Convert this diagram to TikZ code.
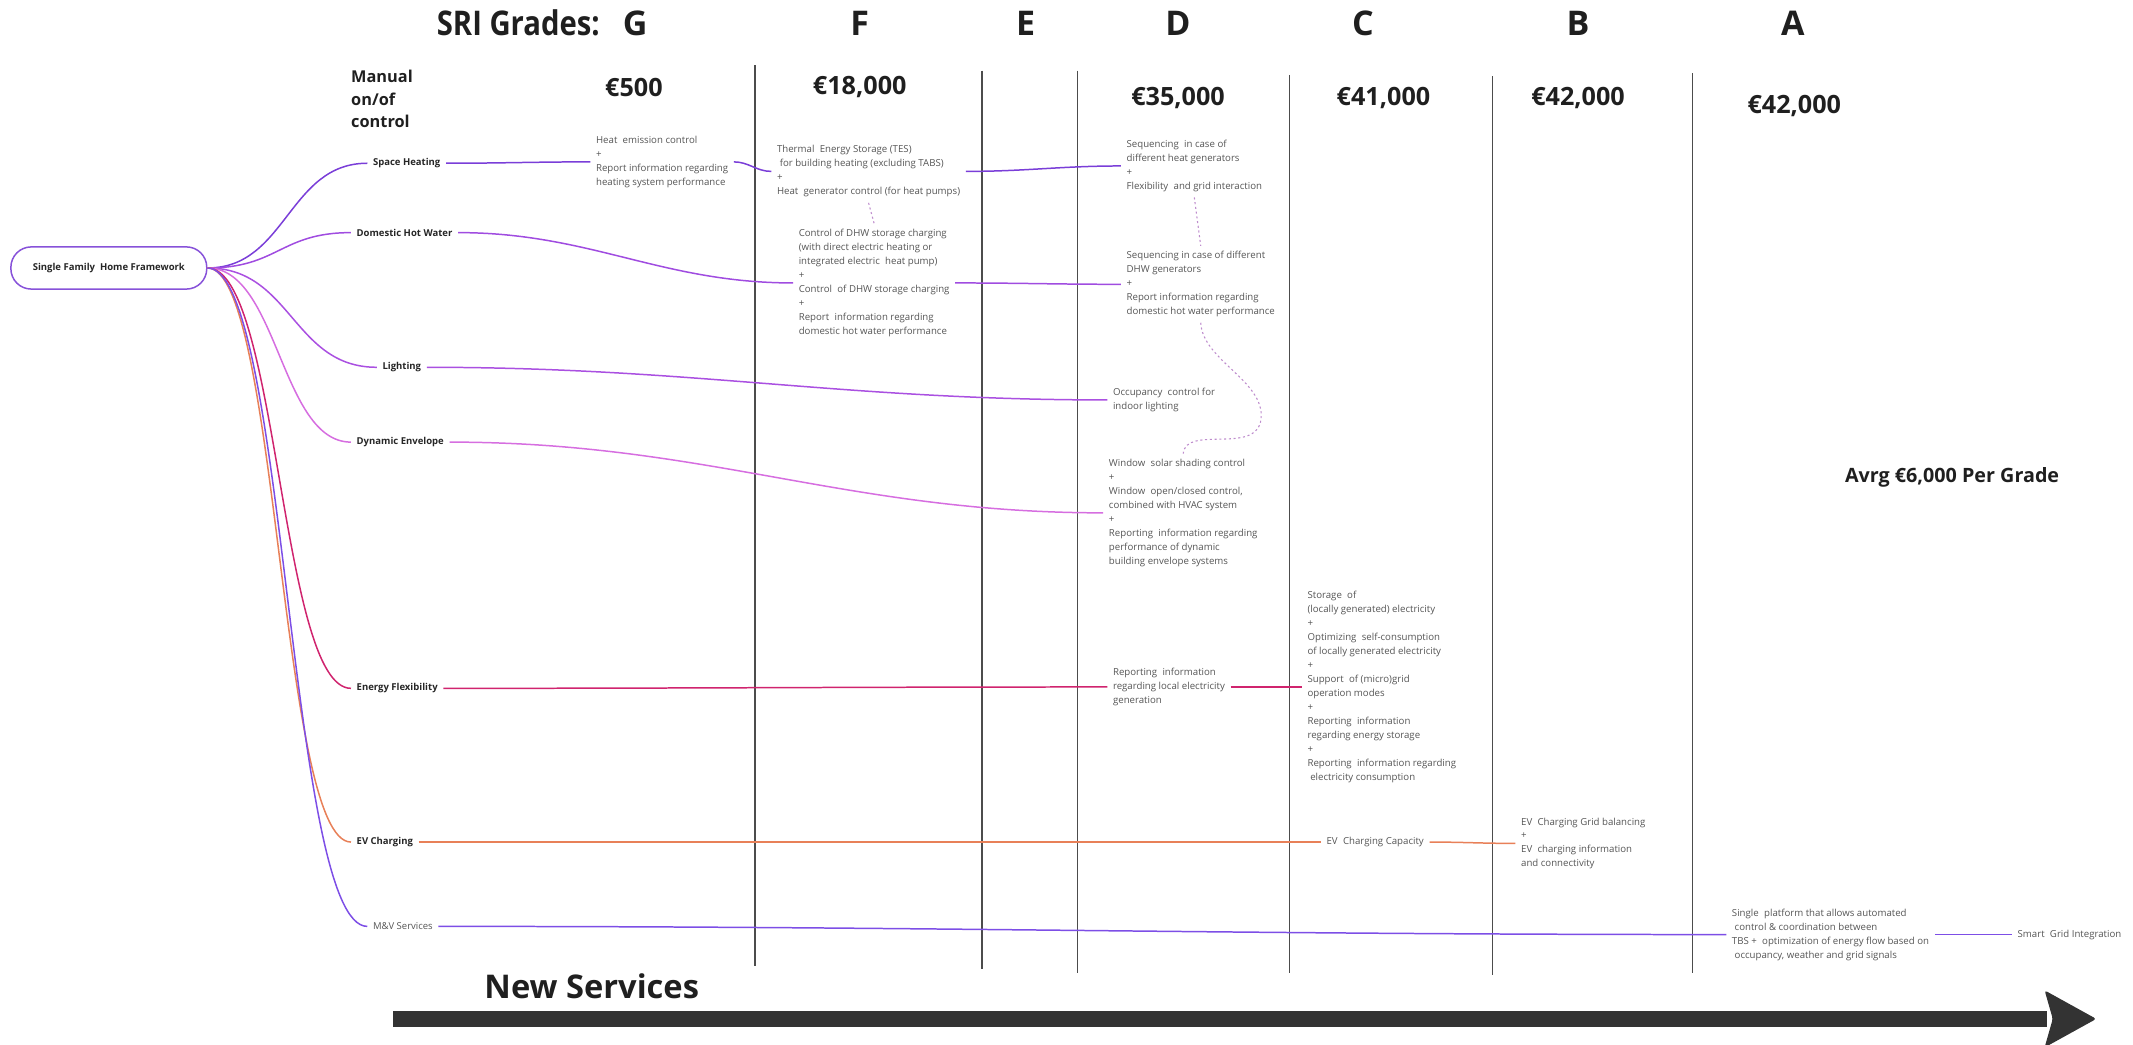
\documentclass[tikz,border=0pt]{standalone}
\usepackage{graphicx}
\usepackage{fontspec}
\setmainfont{Open Sans}
\usetikzlibrary{positioning}

\definecolor{shcol}{RGB}{122,62,216}
\definecolor{dhwcol}{RGB}{160,76,224}
\definecolor{ltcol}{RGB}{170,80,225}
\definecolor{decol}{RGB}{214,110,224}
\definecolor{efcol}{RGB}{208,36,110}
\definecolor{evcol}{RGB}{232,128,88}
\definecolor{mvcol}{RGB}{125,78,230}
\definecolor{rootcol}{RGB}{135,82,217}
\definecolor{txtcol}{RGB}{85,85,85}
\definecolor{dotcol}{RGB}{190,140,205}
\definecolor{barcol}{RGB}{51,51,51}

\newcommand{\gp}{\hspace{0.55em}}

\tikzset{
  root/.style={draw=rootcol, line width=1.1pt, rounded corners=15pt, minimum width=144pt, minimum height=31pt, font=\bfseries\fontsize{7}{8.5}\selectfont, text=black!85},
  lbl/.style={anchor=west, font=\bfseries\fontsize{7}{8.5}\selectfont, text=black!85, inner sep=4pt},
  svc/.style={anchor=west, align=left, font=\fontsize{7.1}{10.25}\selectfont, text=txtcol, inner sep=4pt},
  grade/.style={font=\bfseries\fontsize{25}{30}\selectfont, text=black!88},
  price/.style={font=\bfseries\fontsize{18.5}{22}\selectfont, text=black!88},
  branch/.style={line width=1.1pt},
  link/.style={line width=1.1pt, out=0, in=180},
  dotline/.style={dotcol, line width=0.8pt, dash pattern=on 1.5pt off 2pt},
  gridline/.style={draw=black!70, line width=1.1pt},
}

\begin{document}
\begin{tikzpicture}[x=1pt, y=-1pt]
\useasboundingbox (0,0) rectangle (1568,768);

% grades and prices
\node[grade] (gG) at (467,17) {G};
\node[grade, left=10pt of gG] (sri) {\scalebox{0.86}[1]{SRI Grades:}};
\node[grade] (gF) at (632,17) {F};
\node[grade] (gE) at (754,17) {E};
\node[grade] (gD) at (866,17) {D};
\node[grade] (gC) at (1002,17) {C};
\node[grade] (gB) at (1160,17) {B};
\node[grade] (gA) at (1318,17) {A};

\node[anchor=west, align=left, inner sep=0pt, font=\bfseries\fontsize{12}{16.5}\selectfont, text=black!88] (manual) at (258,73) {Manual\\on/of\\control};
\node[price] (pG) at (466,64) {€500};
\node[price] (pF) at (632,64) {€18,000};
\node[price] (pD) at (866,72) {€35,000};
\node[price] (pC) at (1017,72) {€41,000};
\node[price] (pB) at (1160,72) {€42,000};
\node[price] (pA) at (1319,78) {€42,000};

\foreach \x/\a/\b in {555/48/710, 722/52/712, 792/52/715, 948/55/715, 1097/56/717, 1244/54/715}
  \draw[gridline] (\x,\a) -- (\x,\b);

% mind map
\node[root] (root) at (80,197) {Single Family\ \ Home Framework};

\node[lbl] (sh) at (270,120) {Space Heating};
\node[lbl] (dhw) at (258,171) {Domestic Hot Water};
\node[lbl] (lt) at (277,270) {Lighting};
\node[lbl] (de) at (258,325) {Dynamic Envelope};
\node[lbl] (ef) at (258,506) {Energy Flexibility};
\node[lbl] (ev) at (258,619) {EV Charging};
\node[lbl, font=\fontsize{7}{8.5}\selectfont, text=txtcol] (mv) at (270,681) {M\&V Services};

\draw[branch, shcol] (root.east) .. controls +(58,0) and +(-58,0) .. (sh.west);
\draw[branch, dhwcol] (root.east) .. controls +(52,0) and +(-52,0) .. (dhw.west);
\draw[branch, ltcol] (root.east) .. controls +(62,0) and +(-62,0) .. (lt.west);
\draw[branch, decol] (root.east) .. controls +(52,0) and +(-52,0) .. (de.west);
\draw[branch, efcol] (root.east) .. controls +(52,0) and +(-52,0) .. (ef.west);
\draw[branch, evcol] (root.east) .. controls +(52,0) and +(-52,0) .. (ev.west);
\draw[branch, mvcol] (root.east) .. controls +(58,0) and +(-58,0) .. (mv.west);

% services
\node[svc] (gsh) at (434,119) {Heat\gp emission control\\+\\Report information regarding\\heating system performance};
\node[svc] (fsh) at (567,126) {Thermal\gp Energy Storage (TES)\\\hspace*{2pt}for building heating (excluding TABS)\\+\\Heat\gp generator control (for heat pumps)};
\node[svc] (fdhw) at (583,208) {Control of DHW storage charging\\(with direct electric heating or\\integrated electric\gp heat pump)\\+\\Control\gp of DHW storage charging\\+\\Report\gp information regarding\\domestic hot water performance};
\node[svc] (dsh) at (824,122) {Sequencing\gp in case of\\different heat generators\\+\\Flexibility\gp and grid interaction};
\node[svc] (ddhw) at (824,209) {Sequencing in case of different\\DHW generators\\+\\Report information regarding\\domestic hot water performance};
\node[svc] (dlight) at (814,294) {Occupancy\gp control for\\indoor lighting};
\node[svc] (dwin) at (811,377) {Window\gp solar shading control\\+\\Window\gp open/closed control,\\combined with HVAC system\\+\\Reporting\gp information regarding\\performance of dynamic\\building envelope systems};
\node[svc] (dflex) at (814,505) {Reporting\gp information\\regarding local electricity\\generation};
\node[svc] (cflex) at (957,505) {Storage\gp of\\(locally generated) electricity\\+\\Optimizing\gp self-consumption\\of locally generated electricity\\+\\Support\gp of (micro)grid\\operation modes\\+\\Reporting\gp information\\regarding energy storage\\+\\Reporting\gp information regarding\\\hspace*{2pt}electricity consumption};
\node[svc] (cev) at (971,619) {EV\gp Charging Capacity};
\node[svc] (bev) at (1114,620) {EV\gp Charging Grid balancing\\+\\EV\gp charging information\\and connectivity};
\node[svc] (amv) at (1269,687) {Single\gp platform that allows automated\\\hspace*{2pt}control \& coordination between\\TBS +\gp optimization of energy flow based on\\\hspace*{2pt}occupancy, weather and grid signals};
\node[svc] (asmart) at (1479,687) {Smart\gp Grid Integration};

\draw[link, shcol] (sh.east) to (gsh.west);
\draw[link, shcol] (gsh.east) to (fsh.west);
\draw[link, shcol] (fsh.east) to (dsh.west);
\draw[link, dhwcol] (dhw.east) to (fdhw.west);
\draw[link, dhwcol] (fdhw.east) to (ddhw.west);
\draw[link, ltcol] (lt.east) to (dlight.west);
\draw[link, decol] (de.east) to (dwin.west);
\draw[link, efcol] (ef.east) to (dflex.west);
\draw[link, efcol] (dflex.east) to (cflex.west);
\draw[link, evcol] (ev.east) to (cev.west);
\draw[link, evcol] (cev.east) to (bev.west);
\draw[link, mvcol] (mv.east) to (amv.west);
\draw[link, mvcol] (amv.east) to (asmart.west);

\draw[dotline] (fsh.south) -- (fdhw.north);
\draw[dotline] (dsh.south) -- (ddhw.north);
\coordinate (wave) at (927,308);
\draw[dotline] (ddhw.south) .. controls (884,265) and (930,280) .. (wave)
  .. controls (924,335) and (872,312) .. (dwin.north);

\node[font=\bfseries\fontsize{14.5}{17}\selectfont, text=black!88] (avrg) at (1435,351) {Avrg €6,000 Per Grade};

% new services arrow
\node[font=\bfseries\fontsize{24}{28}\selectfont, text=black!88] (newsrv) at (435,725) {New Services};
\fill[barcol] (289,743) -- (1505,743) -- (1505,755) -- (289,755) -- cycle;
\fill[barcol, rounded corners=2pt] (1503,728) -- (1541,749) -- (1503,770) -- (1509,749) -- cycle;
\end{tikzpicture}
\end{document}
